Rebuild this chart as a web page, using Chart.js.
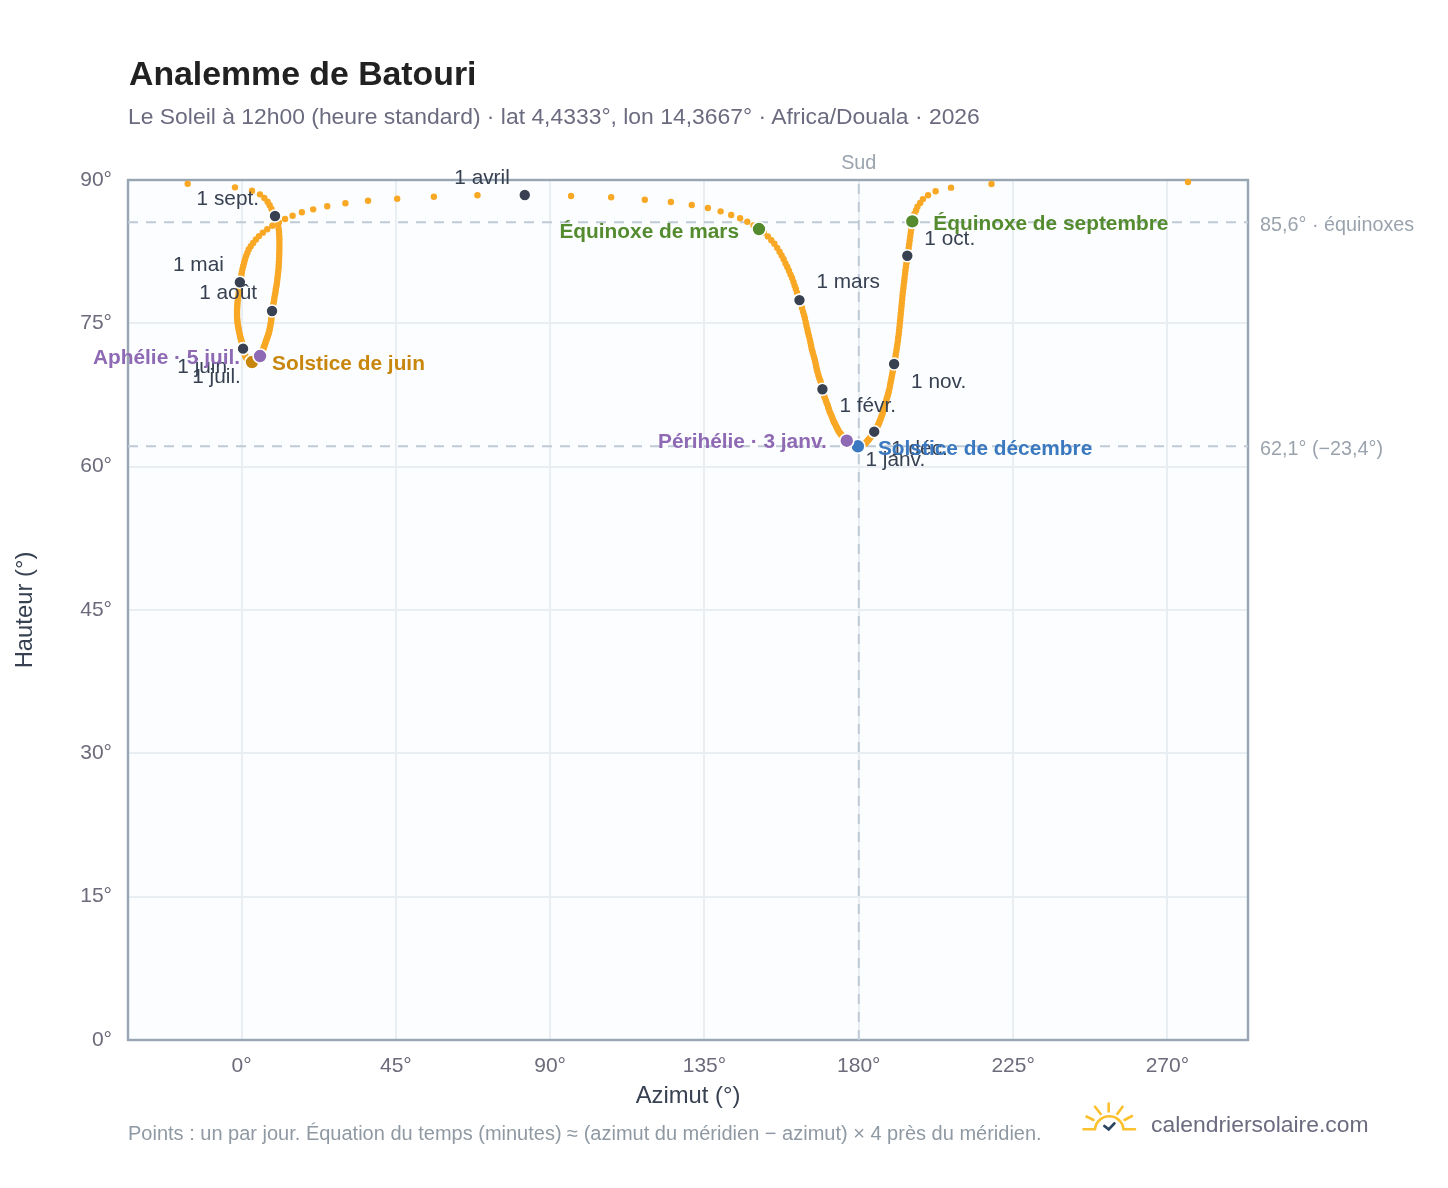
<!DOCTYPE html>
<html lang="fr">
<head>
<meta charset="utf-8">
<title>Analemme de Batouri</title>
<script src="https://cdn.jsdelivr.net/npm/chart.js@4"></script>
<style>
    html, body { margin: 0; padding: 0; background: #fff; }
    body { position: relative; width: 1448px; height: 1188px; overflow: hidden; font-family: "Liberation Sans", Arial, sans-serif; }
    canvas { position: absolute; left: 0; top: 0; }
    .txt { position: absolute; white-space: nowrap; line-height: 1; }
    #titre { left: 129px; top: 57px; font-size: 33.8px; font-weight: bold; color: #212121; }
    #sousTitre { left: 128px; top: 105px; font-size: 22.9px; color: #6b6b80; }
    #note { left: 128px; top: 1123px; font-size: 20px; color: #8f99a3; }
    #marque { left: 1151px; top: 1113px; font-size: 22.9px; color: #6b6b80; }
    #logo { position: absolute; left: 1080px; top: 1100px; }
</style>
</head>
<body>
<canvas id="graphique" width="1448" height="1188"></canvas>
<div class="txt" id="titre">Analemme de Batouri</div>
<div class="txt" id="sousTitre">Le Soleil à 12h00 (heure standard) · lat 4,4333°, lon 14,3667° · Africa/Douala · 2026</div>
<div class="txt" id="note">Points : un par jour. Équation du temps (minutes) ≈ (azimut du méridien − azimut) × 4 près du méridien.</div>
<div class="txt" id="marque">calendriersolaire.com</div>
<svg id="logo" width="60" height="36" viewBox="0 0 60 36" fill="none" stroke="#fbc02d" stroke-width="2.6" stroke-linecap="round">
    <path d="M3.5 29.3 H15 M43.5 29.3 H55 M15 29.3 A14.3 14.3 0 0 1 43.5 29.3"/>
    <path d="M28.7 3.5 V11.5 M15 6.7 L20.7 14 M42.5 6.7 L37.3 14 M6.5 16.5 L13.5 20 M52 16 L44.5 20"/>
    <path d="M24.4 26 L28.7 29.4 L34.4 23.4" stroke="#2b4560" stroke-width="2.8"/>
</svg>

<script>
// Valeurs, un tableau par mois (azimut et hauteur en degrés)
const azJanv = [177.0,176.8,176.5,176.2,176.0,175.7,175.4,175.2,174.9,174.7,174.4,174.2,173.9,173.7,173.4,173.2,173.0,172.7,172.5,172.3,172.05,171.8,171.5,171.3,171.1,170.9,170.6,170.4,170.1,169.9,169.6];
const azFevr = [169.4,169.2,169.0,168.8,168.5,168.25,168.0,167.8,167.6,167.45,167.25,167.05,166.8,166.55,166.3,166.1,165.9,165.7,165.45,165.2,165.0,164.75,164.55,164.3,164.05,163.75,163.45,163.1];
const azMars = [162.7,162.35,162.0,161.65,161.3,160.95,160.55,160.1,159.65,159.15,158.64,158.1,157.5,156.9,156.2,155.4,154.5,153.5,152.3,150.9,149.3,147.5,145.4,142.8,139.7,136.0,131.3,125.2,117.6,107.8,96.1];
const azAvril = [82.6,68.8,56.1,45.4,36.9,30.3,25.0,20.9,17.6,14.9,12.7,10.9,9.0,7.5,6.2,5.1,4.2,3.4,2.7,2.1,1.7,1.3,1.0,0.75,0.5,0.3,0.1,-0.05,-0.2,-0.35];
const azMai = [-0.48,-0.55,-0.65,-0.75,-0.85,-0.95,-1.05,-1.15,-1.2,-1.25,-1.3,-1.3,-1.3,-1.3,-1.25,-1.2,-1.15,-1.05,-0.95,-0.85,-0.75,-0.65,-0.5,-0.4,-0.3,-0.15,0,0.1,0.2,0.3,0.4];
const azJuin = [0.45,0.55,0.65,0.75,0.85,0.95,1.05,1.15,1.25,1.35,1.5,1.65,1.8,1.95,2.1,2.25,2.4,2.55,2.7,2.9,3.06,3.25,3.4,3.6,3.75,3.95,4.1,4.3,4.45,4.6];
const azJuil = [4.75,4.9,5.05,5.2,5.4,5.55,5.7,5.85,6.0,6.2,6.37,6.5,6.65,6.8,6.95,7.1,7.25,7.4,7.55,7.7,7.88,8.0,8.15,8.25,8.35,8.45,8.55,8.65,8.72,8.8,8.85];
const azAout = [8.9,9.05,9.2,9.35,9.5,9.6,9.75,9.9,10.0,10.15,10.3,10.4,10.5,10.6,10.7,10.8,10.85,10.9,10.95,11.0,11.0,11.05,11.05,11.05,11.05,11.0,10.95,10.85,10.7,10.5,10.2];
const azSept = [9.77,9.33,8.75,8.2,7.6,6.65,5.39,3.06,-1.9,-15.7,276.0,218.7,206.9,202.4,200.2,198.7,197.9,197.1,196.7,196.2,195.9,195.6,195.45,195.3,195.15,195.0,194.85,194.7,194.55,194.3];
const azOct = [194.15,194.0,193.9,193.75,193.6,193.5,193.35,193.25,193.1,193.0,192.86,192.75,192.65,192.55,192.45,192.35,192.25,192.15,192.05,191.95,191.87,191.75,191.65,191.5,191.4,191.25,191.1,190.95,190.8,190.65,190.5];
const azNov = [190.3,190.15,190.0,189.85,189.7,189.55,189.4,189.25,189.1,188.95,188.76,188.55,188.35,188.15,187.95,187.75,187.55,187.4,187.2,187.0,186.83,186.6,186.4,186.2,186.0,185.8,185.6,185.35,185.1,184.8];
const azDec = [184.5,184.25,184.05,183.85,183.6,183.4,183.15,182.9,182.7,182.45,182.23,182.0,181.75,181.5,181.25,181.0,180.75,180.5,180.25,180.0,179.75,179.5,179.25,179.0,178.75,178.5,178.2,177.95,177.7,177.45,177.2];

const hJanv = [62.53,62.6,62.72,62.8,62.9,63.0,63.15,63.25,63.35,63.45,63.55,63.7,63.85,64.05,64.2,64.4,64.55,64.7,64.9,65.1,65.33,65.55,65.75,66.0,66.2,66.47,66.7,66.95,67.2,67.45,67.75];
const hFevr = [68.1,68.4,68.7,69.0,69.25,69.54,69.85,70.15,70.45,70.75,71.05,71.35,71.65,72.0,72.3,72.66,73.0,73.35,73.7,74.05,74.39,74.75,75.1,75.5,75.85,76.22,76.6,77.0];
const hMars = [77.43,77.8,78.2,78.6,78.95,79.34,79.75,80.1,80.5,80.9,81.27,81.7,82.1,82.5,82.9,83.33,83.7,84.1,84.5,84.87,85.25,85.63,85.99,86.33,86.72,87.07,87.38,87.7,87.94,88.19,88.32];
const hAvril = [88.43,88.4,88.25,88.04,87.83,87.56,87.25,86.93,86.62,86.26,85.92,85.57,85.21,84.85,84.49,84.13,83.77,83.42,83.07,82.72,82.37,82.03,81.69,81.35,81.01,80.68,80.35,80.03,79.71,79.39];
const hMai = [79.3,79.0,78.7,78.4,78.1,77.8,77.5,77.22,76.95,76.7,76.45,76.2,75.95,75.7,75.47,75.25,75.03,74.82,74.62,74.43,74.25,74.05,73.85,73.66,73.48,73.3,73.14,72.98,72.83,72.68,72.55];
const hJuin = [72.35,72.2,72.07,71.95,71.84,71.74,71.65,71.56,71.49,71.43,71.38,71.3,71.24,71.18,71.12,71.08,71.05,71.02,71.0,70.98,70.95,70.97,70.98,71.0,71.03,71.06,71.1,71.14,71.19,71.25];
const hJuil = [71.32,71.39,71.46,71.52,71.58,71.67,71.77,71.88,72.0,72.15,72.32,72.47,72.62,72.77,72.93,73.09,73.25,73.4,73.55,73.7,73.88,74.06,74.25,74.45,74.65,74.85,75.06,75.27,75.5,75.78,76.03];
const hAout = [76.29,76.56,76.84,77.12,77.4,77.69,77.98,78.26,78.56,78.85,79.15,79.46,79.77,80.09,80.41,80.74,81.07,81.4,81.74,82.08,82.42,82.77,83.1,83.45,83.8,84.15,84.5,84.85,85.2,85.55,85.91];
const hSept = [86.23,86.6,86.96,87.35,87.73,88.12,88.5,88.88,89.23,89.61,89.79,89.58,89.2,88.82,88.4,88.0,87.6,87.2,86.82,86.45,86.04,85.67,85.28,84.88,84.48,84.08,83.68,83.28,82.88,82.48];
const hOct = [82.07,81.68,81.3,80.92,80.54,80.16,79.78,79.4,79.02,78.64,78.26,77.88,77.5,77.13,76.76,76.39,76.02,75.66,75.3,74.94,74.58,74.22,73.86,73.5,73.15,72.8,72.45,72.1,71.76,71.42,71.08];
const hNov = [70.74,70.45,70.15,69.87,69.58,69.3,69.02,68.75,68.48,68.17,67.86,67.6,67.35,67.1,66.85,66.62,66.38,66.15,65.92,65.68,65.45,65.25,65.05,64.85,64.67,64.5,64.33,64.15,63.98,63.82];
const hDec = [63.66,63.53,63.41,63.29,63.18,63.07,62.96,62.85,62.76,62.65,62.56,62.48,62.41,62.34,62.29,62.24,62.2,62.17,62.15,62.14,62.13,62.13,62.14,62.16,62.18,62.21,62.25,62.29,62.34,62.4,62.47];

// Premier de chaque mois : rang du jour dans l'année et étiquette
const moisJours = [0,31,59,90,120,151,181,212,243,273,304,334];
const moisLabels = ['1 janv.','1 févr.','1 mars','1 avril','1 mai','1 juin','1 juil.','1 août','1 sept.','1 oct.','1 nov.','1 déc.'];

// Dates remarquables : rang du jour
const jourEquinoxeMars = 78;
const jourEquinoxeSept = 264;
const jourSolsticeJuin = 171;
const jourSolsticeDec = 354;
const jourAphelie = 185;
const jourPerihelie = 2;

const hauteurEquinoxes = 85.57;
const hauteurSolsticeDec = 62.13;
const azimutSud = 180;

const xTicks = [0,45,90,135,180,225,270];
const xMin = -33.1;
const xMax = 293.5;

const azimuts = [].concat(azJanv,azFevr,azMars,azAvril,azMai,azJuin,azJuil,azAout,azSept,azOct,azNov,azDec);
const hauteurs = [].concat(hJanv,hFevr,hMars,hAvril,hMai,hJuin,hJuil,hAout,hSept,hOct,hNov,hDec);

const point = (i) => ({ x: azimuts[i], y: hauteurs[i] });

const POLICE = '"Liberation Sans", Arial, sans-serif';
Chart.defaults.font.family = POLICE;

// Placement des étiquettes autour des marqueurs (en pixels), même ordre que moisLabels
const decalagesMois = [
    [17, 18, 'left'], [17, 17, 'left'], [17, -18, 'left'], [-15, -17, 'right'],
    [-16, -17, 'right'], [-16, 19, 'right'], [-17, 19, 'right'], [-15, -18, 'right'],
    [-16, -17, 'right'], [17, -17, 'left'], [17, 18, 'left'], [17, 18, 'left']
];

const evenements = [
    { jour: jourEquinoxeMars, texte: 'Équinoxe de mars', couleur: '#558b2f', dx: -20, dy: 3, align: 'right' },
    { jour: jourEquinoxeSept, texte: 'Équinoxe de septembre', couleur: '#558b2f', dx: 21, dy: 3, align: 'left' },
    { jour: jourSolsticeJuin, texte: 'Solstice de juin', couleur: '#c8860d', dx: 20, dy: 2, align: 'left' },
    { jour: jourSolsticeDec, texte: 'Solstice de décembre', couleur: '#3a78bf', dx: 20, dy: 3, align: 'left' },
    { jour: jourAphelie, texte: 'Aphélie · 5 juil.', couleur: '#8e69b4', dx: -20, dy: 2, align: 'right' },
    { jour: jourPerihelie, texte: 'Périhélie · 3 janv.', couleur: '#8e69b4', dx: -20, dy: 2, align: 'right' }
];

// Fond et cadre de la zone de tracé
const cadre = {
    id: 'cadre',
    beforeDraw(chart) {
        const { ctx, chartArea: a } = chart;
        ctx.save();
        ctx.fillStyle = '#fbfdfe';
        ctx.fillRect(a.left, a.top, a.width, a.height);
        ctx.restore();
    },
    beforeDatasetsDraw(chart) {
        const { ctx, chartArea: a } = chart;
        ctx.save();
        ctx.strokeStyle = '#98a6b4';
        ctx.lineWidth = 2.4;
        ctx.strokeRect(a.left, a.top, a.width, a.height);
        ctx.restore();
    }
};

// Étiquettes des mois, des événements et des repères
const etiquettes = {
    id: 'etiquettes',
    afterDatasetsDraw(chart) {
        const { ctx, scales: { x, y }, chartArea: a } = chart;
        ctx.save();
        ctx.textBaseline = 'middle';

        ctx.font = '19.8px ' + POLICE;
        ctx.fillStyle = '#9aa3ad';
        ctx.textAlign = 'center';
        ctx.fillText('Sud', x.getPixelForValue(azimutSud), a.top - 16);
        ctx.textAlign = 'left';
        ctx.fillText('85,6° · équinoxes', a.right + 12, y.getPixelForValue(hauteurEquinoxes) + 3);
        ctx.fillText('62,1° (−23,4°)', a.right + 12, y.getPixelForValue(hauteurSolsticeDec) + 3);

        ctx.font = '20.8px ' + POLICE;
        ctx.fillStyle = '#374151';
        moisJours.forEach((jour, i) => {
            const [dx, dy, align] = decalagesMois[i];
            ctx.textAlign = align;
            ctx.fillText(moisLabels[i], x.getPixelForValue(azimuts[jour]) + dx, y.getPixelForValue(hauteurs[jour]) + dy);
        });

        ctx.font = 'bold 20.85px ' + POLICE;
        evenements.forEach((e) => {
            ctx.fillStyle = e.couleur;
            ctx.textAlign = e.align;
            ctx.fillText(e.texte, x.getPixelForValue(azimuts[e.jour]) + e.dx, y.getPixelForValue(hauteurs[e.jour]) + e.dy);
        });
        ctx.restore();
    }
};

const repere = (donnees) => ({
    type: 'line',
    data: donnees,
    borderColor: '#bfcad5',
    borderWidth: 2,
    borderDash: [10, 8],
    pointRadius: 0,
    order: 10
});

const marqueur = (jours, couleur, rayon, ordre) => ({
    data: jours.map(point),
    backgroundColor: couleur,
    borderColor: '#ffffff',
    borderWidth: 1.6,
    pointRadius: rayon,
    clip: false,
    order: ordre
});

new Chart(document.getElementById('graphique'), {
    type: 'scatter',
    data: {
        datasets: [
            repere([{ x: xMin, y: hauteurEquinoxes }, { x: xMax, y: hauteurEquinoxes }]),
            repere([{ x: xMin, y: hauteurSolsticeDec }, { x: xMax, y: hauteurSolsticeDec }]),
            repere([{ x: azimutSud, y: 0 }, { x: azimutSud, y: 90 }]),
            {
                data: azimuts.map((az, i) => point(i)),
                backgroundColor: '#f9a825',
                borderWidth: 0,
                pointRadius: 3.2,
                clip: false,
                order: 9
            },
            marqueur(moisJours, '#374151', 6, 8),
            marqueur([jourSolsticeJuin], '#c8860d', 7, 7),
            marqueur([jourSolsticeDec], '#3a78bf', 7, 6),
            marqueur([jourEquinoxeMars, jourEquinoxeSept], '#558b2f', 7, 5),
            marqueur([jourAphelie, jourPerihelie], '#8e69b4', 7, 4)
        ]
    },
    options: {
        responsive: false,
        animation: false,
        layout: { padding: { top: 180, left: 0, right: 200, bottom: 77 } },
        plugins: { legend: { display: false }, tooltip: { enabled: false } },
        scales: {
            x: {
                type: 'linear',
                min: xMin,
                max: xMax,
                afterFit: (s) => { s.height = 71; },
                afterBuildTicks: (s) => { s.ticks = xTicks.map((v) => ({ value: v })); },
                grid: { color: '#e9eef3', lineWidth: 2, drawTicks: false },
                border: { display: false },
                ticks: { color: '#6b6b7b', font: { size: 21 }, padding: 14, maxRotation: 0, callback: (v) => v + '°' },
                title: { display: true, text: 'Azimut (°)', color: '#374151', font: { size: 23.8 }, padding: { top: 0, bottom: 0 } }
            },
            y: {
                min: 0,
                max: 90,
                afterFit: (s) => { s.width = 128; },
                grid: { color: '#e9eef3', lineWidth: 2, drawTicks: false },
                border: { display: false },
                ticks: { stepSize: 15, color: '#6b6b7b', font: { size: 21 }, padding: 16, callback: (v) => v + '°' },
                title: { display: true, text: 'Hauteur (°)', color: '#374151', font: { size: 23.8 }, padding: { top: 11, bottom: 0 } }
            }
        }
    },
    plugins: [cadre, etiquettes]
});
</script>
</body>
</html>
